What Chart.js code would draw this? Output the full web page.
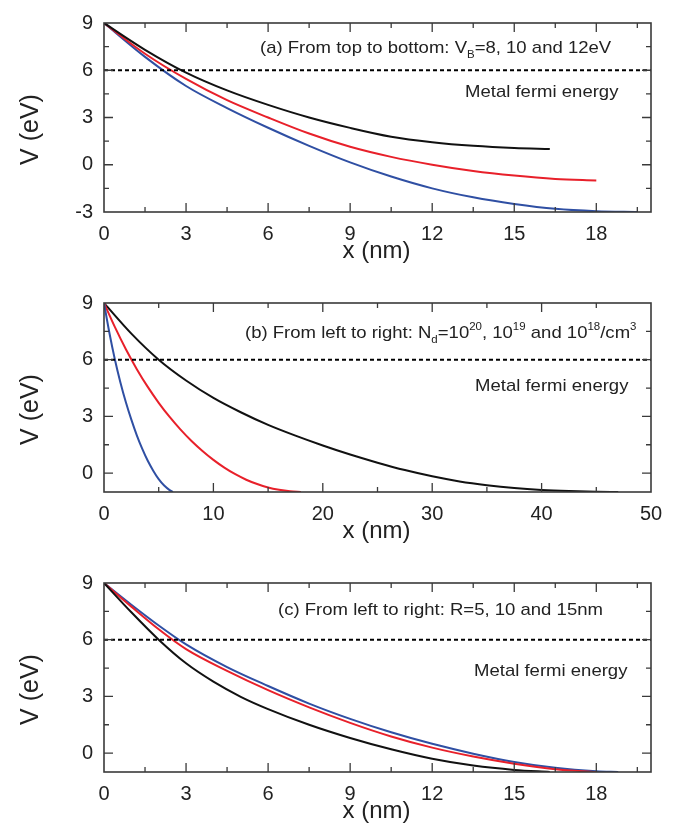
<!DOCTYPE html>
<html>
<head>
<meta charset="utf-8">
<script src="https://cdn.jsdelivr.net/npm/chart.js@4.4.0/dist/chart.umd.min.js"></script>
<style>
  body { margin: 0; background: #fff; }
  #wrap { position: relative; width: 691px; height: 831px; overflow: hidden; }
  canvas { position: absolute; left: 0; }
</style>
</head>
<body>
<div id="wrap">
  <canvas id="chartA" width="691" height="280" style="top:0px"></canvas>
  <canvas id="chartB" width="691" height="280" style="top:280px"></canvas>
  <canvas id="chartC" width="691" height="280" style="top:560px"></canvas>
</div>
<script>
// fermi level (eV)
const FERMI = 6;

// (a) barrier height VB = 8, 10, 12 eV
const aX8 = [0, 1.5, 3, 4.5, 6, 7.5, 9, 10.5, 12, 13.5, 15, 16.3];
const aV8 = [9, 7.3, 5.85, 4.72, 3.8, 3.0, 2.34, 1.78, 1.43, 1.2, 1.06, 1.0];
const aX10 = [0, 1.5, 3, 4.5, 6, 7.5, 9, 10.5, 12, 13.5, 15, 16.5, 18];
const aV10 = [9, 7.05, 5.45, 4.1, 3.0, 1.98, 1.14, 0.5, 0.0, -0.4, -0.69, -0.9, -1.0];
const aX12 = [0, 1.5, 3, 4.5, 6, 7.5, 9, 10.5, 12, 13.5, 15, 16.5, 18, 19.5];
const aV12 = [9, 6.85, 5.0, 3.6, 2.35, 1.2, 0.15, -0.75, -1.5, -2.07, -2.49, -2.8, -2.95, -3.0];

// (b) doping Nd = 1e20, 1e19, 1e18 /cm3
const bX20 = [0, 0.5, 1, 1.5, 2, 2.5, 3, 3.5, 4, 4.5, 5, 5.5, 6, 6.3];
const bV20 = [9, 7.4, 6.0, 4.8, 3.75, 2.83, 2.0, 1.28, 0.65, 0.13, -0.32, -0.66, -0.9, -1.0];
const bX19 = [0, 1, 2, 3, 4, 5, 6, 7, 8, 9, 10, 11, 12, 13, 14, 15, 16, 17, 18];
const bV19 = [9, 7.72, 6.55, 5.5, 4.56, 3.72, 2.97, 2.3, 1.7, 1.17, 0.7, 0.29, -0.06, -0.35, -0.58, -0.76, -0.88, -0.96, -1.0];
const bX18 = [0, 2.5, 5, 7.5, 10, 12.5, 15, 17.5, 20, 22.5, 25, 27.5, 30, 32.5, 35, 37.5, 40, 42.5, 45, 47];
const bV18 = [9, 7.38, 6.0, 4.9, 3.98, 3.22, 2.55, 1.98, 1.46, 0.98, 0.55, 0.16, -0.17, -0.44, -0.64, -0.79, -0.89, -0.95, -0.985, -1.0];

// (c) radius R = 5, 10, 15 nm
const cX5 = [0, 1, 2, 3, 4, 5, 6, 7.5, 9, 10.5, 12, 13.5, 15, 16.3];
const cV5 = [9, 7.45, 6.0, 4.75, 3.78, 2.98, 2.33, 1.5, 0.8, 0.2, -0.3, -0.66, -0.89, -1.0];
const cX10 = [0, 1, 2, 3, 4.5, 6, 7.5, 9, 10.5, 12, 13.5, 15, 16.5, 18];
const cV10 = [9, 7.75, 6.55, 5.5, 4.35, 3.33, 2.42, 1.6, 0.88, 0.29, -0.18, -0.56, -0.85, -1.0];
const cX15 = [0, 1, 2, 3, 4.5, 6, 7.5, 9, 10.5, 12, 13.5, 15, 16.5, 18, 18.8];
const cV15 = [9, 7.85, 6.75, 5.75, 4.55, 3.55, 2.62, 1.81, 1.1, 0.49, -0.03, -0.47, -0.78, -0.96, -1.0];

// tick labels
const xTicksNm = [0, 3, 6, 9, 12, 15, 18];
const xTicksB = [0, 10, 20, 30, 40, 50];
const yTicksA = [-3, 0, 3, 6, 9];
const yTicksBC = [0, 3, 6, 9];

const FONT = "'Liberation Sans', Arial, sans-serif";
const BLACK = "#111111";
const RED = "#e8202a";
const BLUE = "#2f4fa3";

Chart.defaults.font.family = FONT;
Chart.defaults.color = "#222";

function curve(xs, ys, color) {
  return {
    data: xs.map((x, i) => ({ x: x, y: ys[i] })),
    borderColor: color,
    borderWidth: 2,
    pointRadius: 0,
    cubicInterpolationMode: "monotone",
    fill: false,
  };
}

function fermiLine(xMax) {
  return {
    data: [{ x: 0, y: FERMI }, { x: xMax, y: FERMI }],
    borderColor: "#000",
    borderWidth: 2,
    borderDash: [4, 3],
    pointRadius: 0,
  };
}

// box + inward ticks on all four sides
const frame = {
  id: "frame",
  afterDraw(chart, args, o) {
    const { ctx, chartArea: a } = chart;
    const sx = chart.scales.x;
    const sy = chart.scales.y;
    ctx.save();
    ctx.strokeStyle = "#3a3a3a";
    ctx.lineWidth = 1.3;
    ctx.beginPath();
    o.xTicks.forEach((v) => {
      [[v, 9], [v + o.xStep / 2, 5]].forEach(([t, len]) => {
        if (t <= sx.min || t >= sx.max) return;
        const px = sx.getPixelForValue(t);
        ctx.moveTo(px, a.bottom);
        ctx.lineTo(px, a.bottom - len);
        ctx.moveTo(px, a.top);
        ctx.lineTo(px, a.top + len);
      });
    });
    o.yTicks.forEach((v) => {
      [[v, 9], [v + 1.5, 5]].forEach(([t, len]) => {
        if (t <= sy.min || t >= sy.max) return;
        const py = sy.getPixelForValue(t);
        ctx.moveTo(a.left, py);
        ctx.lineTo(a.left + len, py);
        ctx.moveTo(a.right, py);
        ctx.lineTo(a.right - len, py);
      });
    });
    ctx.stroke();
    ctx.lineWidth = 1.6;
    ctx.strokeRect(a.left, a.top, a.right - a.left, a.bottom - a.top);
    ctx.restore();
  },
};

// text runs with sub/superscripts, slightly widened like the original
function drawRuns(ctx, x, y, runs, size) {
  ctx.save();
  ctx.translate(x, y);
  ctx.scale(1.09, 1);
  let cx = 0;
  runs.forEach(([t, k]) => {
    const s = k ? size * 0.62 : size;
    const dy = k === "sub" ? size * 0.32 : k === "sup" ? -size * 0.45 : 0;
    ctx.font = s + "px " + FONT;
    ctx.fillText(t, cx, dy);
    cx += ctx.measureText(t).width;
  });
  ctx.restore();
}

// axis titles and the notes inside the box
const notes = {
  id: "notes",
  afterDraw(chart, args, o) {
    const { ctx, chartArea: a } = chart;
    ctx.save();
    ctx.fillStyle = "#222";
    ctx.textBaseline = "alphabetic";
    ctx.textAlign = "left";
    drawRuns(ctx, o.noteX, a.top + o.noteY, o.note, 17);
    drawRuns(ctx, o.metalX, a.top + o.metalY, [["Metal fermi energy"]], 17);

    ctx.textAlign = "center";
    ctx.font = "24px " + FONT;
    ctx.fillText("x (nm)", (a.left + a.right) / 2 - 1, a.bottom + 46);
    ctx.translate(38, (a.top + a.bottom) / 2 + 12);
    ctx.rotate(-Math.PI / 2);
    ctx.font = "25px " + FONT;
    ctx.fillText("V (eV)", 0, 0);
    ctx.restore();
  },
};

function makeChart(id, datasets, xMax, yMin, xTicks, yTicks, xStep, noteOpts) {
  return new Chart(document.getElementById(id), {
    type: "line",
    data: { datasets: datasets },
    plugins: [frame, notes],
    options: {
      responsive: false,
      animation: false,
      events: [],
      layout: { padding: { top: 15, right: 40, left: 0, bottom: 0 } },
      plugins: {
        legend: { display: false },
        tooltip: { enabled: false },
        frame: { xTicks: xTicks, yTicks: yTicks, xStep: xStep },
        notes: noteOpts,
      },
      scales: {
        x: {
          type: "linear",
          min: 0,
          max: xMax,
          grid: { display: false, drawTicks: false },
          border: { display: false },
          ticks: { font: { size: 20 }, color: "#222", padding: 10, maxRotation: 0 },
          afterBuildTicks: (s) => { s.ticks = xTicks.map((v) => ({ value: v })); },
          afterFit: (s) => { s.height = 68; },
        },
        y: {
          min: yMin,
          max: 9,
          grid: { display: false, drawTicks: false },
          border: { display: false },
          ticks: { font: { size: 20 }, color: "#222", padding: 11 },
          afterBuildTicks: (s) => { s.ticks = yTicks.map((v) => ({ value: v })); },
          afterFit: (s) => { s.width = 104; },
        },
      },
    },
  });
}

makeChart("chartA",
  [fermiLine(20), curve(aX8, aV8, BLACK), curve(aX10, aV10, RED), curve(aX12, aV12, BLUE)],
  20, -3, xTicksNm, yTicksA, 3,
  {
    noteX: 260, noteY: 29.5,
    note: [["(a) From top to bottom: V"], ["B", "sub"], ["=8, 10 and 12eV"]],
    metalX: 465, metalY: 73.5,
  });

makeChart("chartB",
  [fermiLine(50), curve(bX20, bV20, BLUE), curve(bX19, bV19, RED), curve(bX18, bV18, BLACK)],
  50, -1, xTicksB, yTicksBC, 10,
  {
    noteX: 245, noteY: 35,
    note: [["(b) From left to right: N"], ["d", "sub"], ["=10"], ["20", "sup"], [", 10"], ["19", "sup"],
           [" and 10"], ["18", "sup"], ["/cm"], ["3", "sup"]],
    metalX: 475, metalY: 88,
  });

makeChart("chartC",
  [fermiLine(20), curve(cX5, cV5, BLACK), curve(cX10, cV10, RED), curve(cX15, cV15, BLUE)],
  20, -1, xTicksNm, yTicksBC, 3,
  {
    noteX: 278, noteY: 31.5,
    note: [["(c) From left to right: R=5, 10 and 15nm"]],
    metalX: 474, metalY: 93,
  });
</script>
</body>
</html>
